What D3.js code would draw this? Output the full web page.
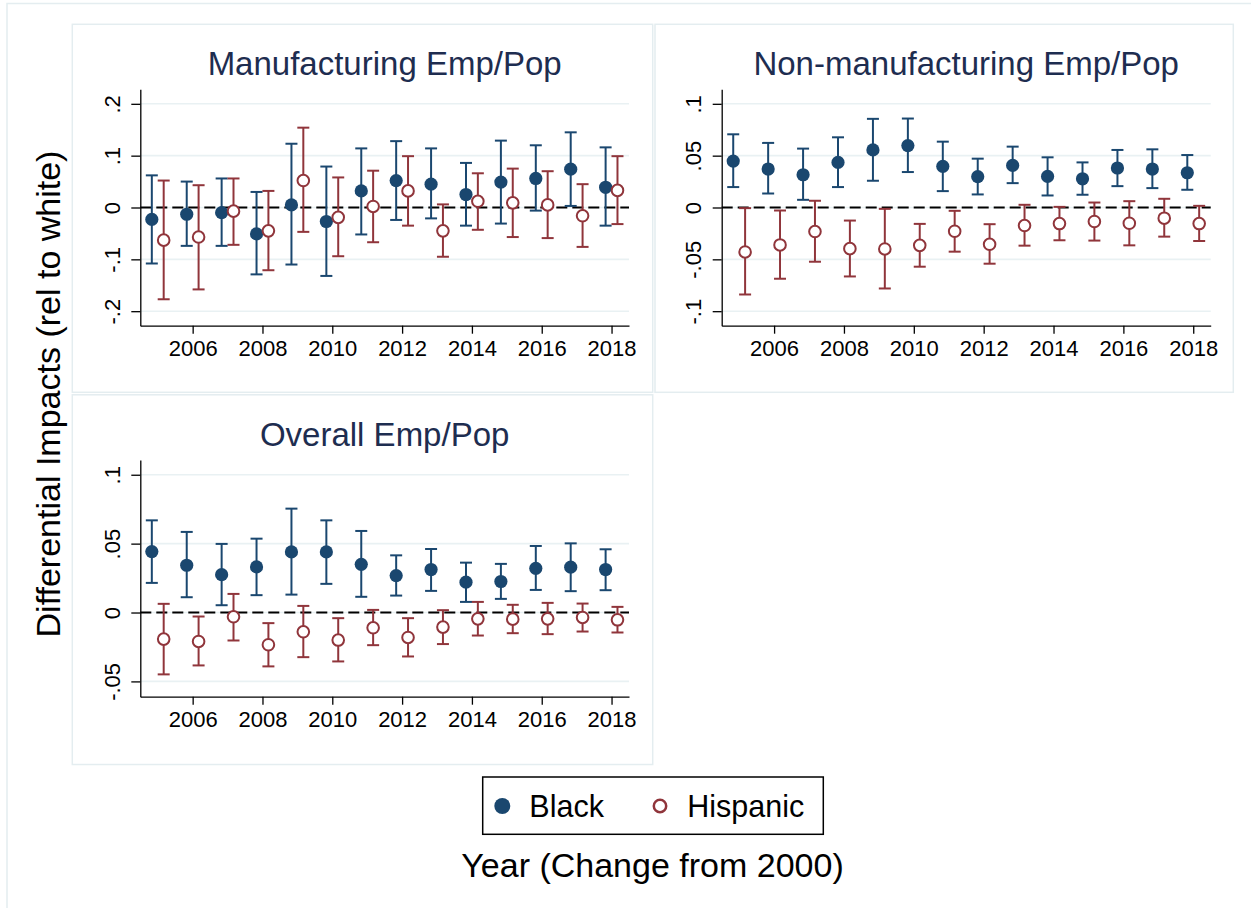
<!DOCTYPE html>
<html>
<head>
<meta charset="utf-8">
<script src="https://cdn.jsdelivr.net/npm/d3@7"></script>
<style>
  body { margin: 0; background: #fff; }
  text { font-family: "Liberation Sans", Arial, sans-serif; }
</style>
</head>
<body>
<script>
// years and x ticks
const years = [2005, 2006, 2007, 2008, 2009, 2010, 2011, 2012, 2013, 2014, 2015, 2016, 2017, 2018];
const xTickYears = [2006, 2008, 2010, 2012, 2014, 2016, 2018];

// Manufacturing Emp/Pop
const mfgBlack   = [-0.023, -0.013, -0.010, -0.051, 0.005, -0.027, 0.032, 0.052, 0.045, 0.025, 0.049, 0.056, 0.074, 0.039];
const mfgBlackLo = [-0.108, -0.074, -0.074, -0.129, -0.110, -0.132, -0.052, -0.024, -0.021, -0.035, -0.031, -0.006, 0.003, -0.035];
const mfgBlackHi = [0.062, 0.050, 0.056, 0.030, 0.123, 0.079, 0.114, 0.128, 0.114, 0.086, 0.129, 0.120, 0.145, 0.116];
const mfgHisp    = [-0.063, -0.057, -0.007, -0.045, 0.052, -0.019, 0.002, 0.032, -0.045, 0.012, 0.009, 0.005, -0.016, 0.033];
const mfgHispLo  = [-0.177, -0.158, -0.072, -0.121, -0.047, -0.094, -0.067, -0.035, -0.095, -0.043, -0.057, -0.059, -0.076, -0.032];
const mfgHispHi  = [0.052, 0.043, 0.056, 0.032, 0.154, 0.058, 0.071, 0.099, 0.006, 0.066, 0.075, 0.070, 0.045, 0.099];

// Non-manufacturing Emp/Pop
const nonBlack   = [0.0448, 0.0371, 0.0316, 0.0435, 0.0555, 0.0597, 0.0397, 0.0297, 0.0406, 0.0300, 0.0277, 0.0381, 0.0371, 0.0335];
const nonBlackLo = [0.0197, 0.0135, 0.0074, 0.0197, 0.0258, 0.0342, 0.0158, 0.0126, 0.0235, 0.0116, 0.0123, 0.0206, 0.0187, 0.0171];
const nonBlackHi = [0.0706, 0.0623, 0.0568, 0.0677, 0.0855, 0.0858, 0.0635, 0.0471, 0.0587, 0.0484, 0.0435, 0.0555, 0.0561, 0.0506];
const nonHisp    = [-0.0429, -0.0361, -0.0232, -0.0397, -0.0400, -0.0365, -0.0229, -0.0355, -0.0174, -0.0155, -0.0135, -0.0152, -0.0103, -0.0155];
const nonHispLo  = [-0.0839, -0.0687, -0.0523, -0.0665, -0.0781, -0.0571, -0.0426, -0.0542, -0.0368, -0.0316, -0.0319, -0.0365, -0.0281, -0.0323];
const nonHispHi  = [-0.0006, -0.0029, 0.0065, -0.0126, -0.0013, -0.0158, -0.0032, -0.0161, 0.0026, 0.0006, 0.0048, 0.0061, 0.0084, 0.0016];

// Overall Emp/Pop
const allBlack   = [0.0442, 0.0343, 0.0275, 0.0331, 0.0440, 0.0440, 0.0350, 0.0268, 0.0312, 0.0220, 0.0225, 0.0321, 0.0329, 0.0312];
const allBlackLo = [0.0215, 0.0111, 0.0053, 0.0126, 0.0130, 0.0208, 0.0114, 0.0123, 0.0157, 0.0077, 0.0099, 0.0164, 0.0155, 0.0162];
const allBlackHi = [0.0669, 0.0585, 0.0498, 0.0536, 0.0754, 0.0669, 0.0592, 0.0415, 0.0461, 0.0362, 0.0353, 0.0483, 0.0502, 0.0459];
const allHisp    = [-0.0193, -0.0210, -0.0031, -0.0234, -0.0140, -0.0200, -0.0111, -0.0181, -0.0106, -0.0046, -0.0048, -0.0046, -0.0036, -0.0053];
const allHispLo  = [-0.0449, -0.0384, -0.0203, -0.0391, -0.0324, -0.0355, -0.0237, -0.0319, -0.0229, -0.0167, -0.0150, -0.0157, -0.0138, -0.0145];
const allHispHi  = [0.0063, -0.0029, 0.0135, -0.0077, 0.0048, -0.0041, 0.0019, -0.0041, 0.0017, 0.0077, 0.0056, 0.0070, 0.0065, 0.0041];

// y tick values and labels
const mfgTicks = [-0.2, -0.1, 0, 0.1, 0.2];
const mfgTickLabels = ['-.2', '-.1', '0', '.1', '.2'];
const nonTicks = [-0.1, -0.05, 0, 0.05, 0.1];
const nonTickLabels = ['-.1', '-.05', '0', '.05', '.1'];
const allTicks = [-0.05, 0, 0.05, 0.1];
const allTickLabels = ['-.05', '0', '.05', '.1'];

const seriesNames = ['Black', 'Hispanic'];

// colours
const navy = '#1a476f';
const maroon = '#90353b';
const gridColor = '#e9f1f3';
const boxColor = '#e4edf0';

const width = 1251;
const height = 908;
const svg = d3.select('body').append('svg').attr('width', width).attr('height', height);

// outer frame (only top and left edges are inside the picture)
svg.append('path')
  .attr('d', `M7,${height} V3.5 H${width}`)
  .attr('fill', 'none').attr('stroke', boxColor).attr('stroke-width', 1.5);

const offset = 0.17; // horizontal shift of the two series

const drawPanel = (cfg) => {
  const { box, plot } = cfg;

  svg.append('rect')
    .attr('x', box.x).attr('y', box.y).attr('width', box.w).attr('height', box.h)
    .attr('fill', 'none').attr('stroke', boxColor).attr('stroke-width', 1.5);

  const x = d3.scaleLinear().domain([2004.5, 2018.5]).range([plot.left, plot.right]);
  const y = d3.scaleLinear().domain(cfg.yDomain).range([plot.bottom, plot.top]);

  // title
  svg.append('text')
    .attr('x', (plot.left + plot.right) / 2)
    .attr('y', plot.top - 14)
    .attr('text-anchor', 'middle')
    .attr('font-size', '33px')
    .attr('fill', '#1e2d50')
    .text(cfg.title);

  // grid
  svg.append('g')
    .selectAll('line')
    .data(cfg.yTicks)
    .enter()
    .append('line')
    .attr('x1', plot.left).attr('x2', plot.right)
    .attr('y1', (d) => y(d)).attr('y2', (d) => y(d))
    .attr('stroke', gridColor).attr('stroke-width', 1.6);

  // zero line
  svg.append('line')
    .attr('x1', plot.left).attr('x2', plot.right)
    .attr('y1', y(0)).attr('y2', y(0))
    .attr('stroke', '#000').attr('stroke-width', 2)
    .attr('stroke-dasharray', '11,5');

  // axes
  const yAxis = svg.append('g')
    .attr('transform', `translate(${plot.left},0)`)
    .call(d3.axisLeft(y).tickValues(cfg.yTicks).tickSize(9).tickSizeOuter(0)
      .tickFormat((d, i) => cfg.yLabels[i]));
  yAxis.selectAll('text')
    .attr('x', 0).attr('y', -20.5).attr('dy', 0)
    .attr('transform', 'rotate(-90)')
    .attr('text-anchor', 'middle')
    .attr('font-size', '22px')
    .attr('font-family', '"Liberation Sans", Arial, sans-serif')
    .attr('fill', '#000');

  const xAxis = svg.append('g')
    .attr('transform', `translate(0,${plot.bottom})`)
    .call(d3.axisBottom(x).tickValues(xTickYears).tickSize(8).tickSizeOuter(0)
      .tickPadding(7).tickFormat(d3.format('d')));
  xAxis.selectAll('text')
    .attr('font-size', '22px')
    .attr('font-family', '"Liberation Sans", Arial, sans-serif')
    .attr('fill', '#000');

  [yAxis, xAxis].forEach((g) => {
    g.selectAll('path, line').attr('stroke', '#000').attr('stroke-width', 1.3);
  });

  // series
  const series = [
    { name: seriesNames[0], est: cfg.black[0], lo: cfg.black[1], hi: cfg.black[2], shift: -offset, color: navy, hollow: false },
    { name: seriesNames[1], est: cfg.hisp[0], lo: cfg.hisp[1], hi: cfg.hisp[2], shift: offset, color: maroon, hollow: true },
  ];

  series.forEach((s) => {
    const rows = years.map((yr, i) => ({ year: yr + s.shift, est: s.est[i], lo: s.lo[i], hi: s.hi[i] }));
    const g = svg.append('g').attr('stroke', s.color).attr('stroke-width', 2);

    g.selectAll('line.bar')
      .data(rows)
      .enter()
      .append('line')
      .attr('class', 'bar')
      .attr('x1', (d) => x(d.year)).attr('x2', (d) => x(d.year))
      .attr('y1', (d) => y(d.lo)).attr('y2', (d) => y(d.hi));

    ['lo', 'hi'].forEach((k) => {
      g.selectAll(`line.cap-${k}`)
        .data(rows)
        .enter()
        .append('line')
        .attr('class', `cap-${k}`)
        .attr('x1', (d) => x(d.year) - 6).attr('x2', (d) => x(d.year) + 6)
        .attr('y1', (d) => y(d[k])).attr('y2', (d) => y(d[k]));
    });

    g.selectAll('circle')
      .data(rows)
      .enter()
      .append('circle')
      .attr('cx', (d) => x(d.year))
      .attr('cy', (d) => y(d.est))
      .attr('r', s.hollow ? 5.8 : 6.6)
      .attr('fill', s.hollow ? '#fff' : s.color)
      .attr('stroke', s.hollow ? s.color : 'none')
      .attr('stroke-width', 2);
  });
};

drawPanel({
  title: 'Manufacturing Emp/Pop',
  box: { x: 72.3, y: 24.3, w: 580.4, h: 368 },
  plot: { left: 140.3, right: 629, top: 89.3, bottom: 325.7 },
  yDomain: [-0.228, 0.228],
  yTicks: mfgTicks, yLabels: mfgTickLabels,
  black: [mfgBlack, mfgBlackLo, mfgBlackHi],
  hisp: [mfgHisp, mfgHispLo, mfgHispHi],
});

drawPanel({
  title: 'Non-manufacturing Emp/Pop',
  box: { x: 655, y: 24.3, w: 578.3, h: 368 },
  plot: { left: 721.7, right: 1210.7, top: 89.3, bottom: 325.7 },
  yDomain: [-0.114, 0.114],
  yTicks: nonTicks, yLabels: nonTickLabels,
  black: [nonBlack, nonBlackLo, nonBlackHi],
  hisp: [nonHisp, nonHispLo, nonHispHi],
});

drawPanel({
  title: 'Overall Emp/Pop',
  box: { x: 72.3, y: 394.8, w: 580.4, h: 369.7 },
  plot: { left: 140.3, right: 629, top: 460, bottom: 696.7 },
  yDomain: [-0.0611, 0.1107],
  yTicks: allTicks, yLabels: allTickLabels,
  black: [allBlack, allBlackLo, allBlackHi],
  hisp: [allHisp, allHispLo, allHispHi],
});

// y axis title
svg.append('text')
  .attr('transform', 'translate(60,394) rotate(-90)')
  .attr('text-anchor', 'middle')
  .attr('font-size', '34px')
  .attr('fill', '#000')
  .text('Differential Impacts (rel to white)');

// x axis title
svg.append('text')
  .attr('x', 652.5)
  .attr('y', 876.7)
  .attr('text-anchor', 'middle')
  .attr('font-size', '34px')
  .attr('fill', '#000')
  .text('Year (Change from 2000)');

// legend
const legend = svg.append('g');
legend.append('rect')
  .attr('x', 482.7).attr('y', 777).attr('width', 340.6).attr('height', 57.3)
  .attr('fill', '#fff').attr('stroke', '#000').attr('stroke-width', 1.5);

const legendItems = [
  { name: seriesNames[0], cx: 502.3, tx: 529.3, color: navy, hollow: false },
  { name: seriesNames[1], cx: 660, tx: 687.3, color: maroon, hollow: true },
];
legend.selectAll('circle')
  .data(legendItems)
  .enter()
  .append('circle')
  .attr('cx', (d) => d.cx).attr('cy', 806)
  .attr('r', (d) => (d.hollow ? 6.2 : 8))
  .attr('fill', (d) => (d.hollow ? '#fff' : d.color))
  .attr('stroke', (d) => (d.hollow ? d.color : 'none'))
  .attr('stroke-width', 2.5);
legend.selectAll('text')
  .data(legendItems)
  .enter()
  .append('text')
  .attr('x', (d) => d.tx).attr('y', 817)
  .attr('font-size', '30.5px')
  .attr('fill', '#000')
  .text((d) => d.name);
</script>
</body>
</html>
